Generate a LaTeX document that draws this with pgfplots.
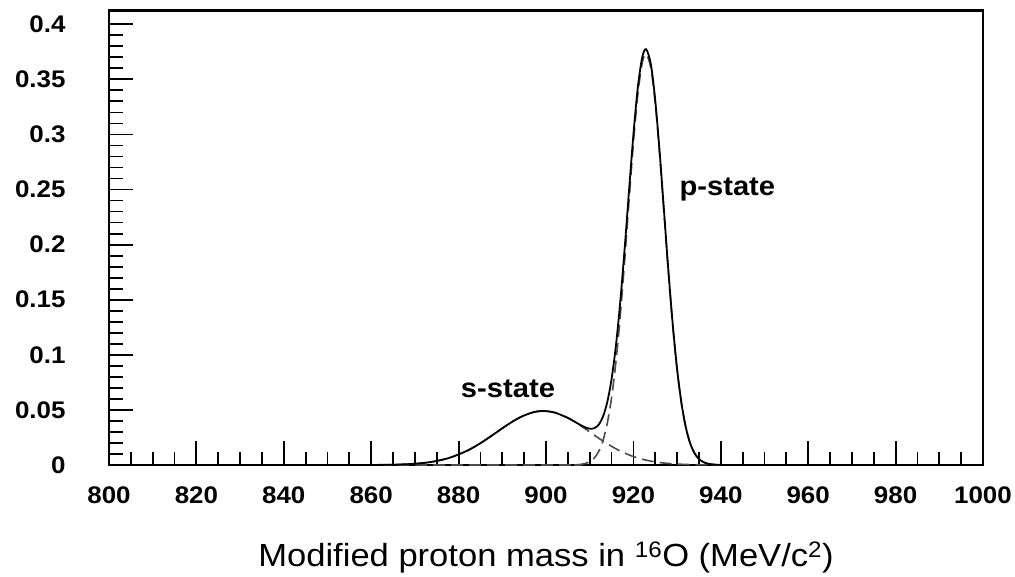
\documentclass[border=0pt]{standalone}
\usepackage{fontspec}
\setmainfont{Liberation Sans}[FakeStretch=1.08]
\usepackage{pgfplots}
\pgfplotsset{compat=1.18}
\usepackage{pgfplotstable}

% s-state Gaussian component
\pgfplotstableread{
x y
800 0
850 0
860 0.00006
865 0.00028
870 0.00112
874 0.00293
878 0.00663
882 0.01306
885 0.01981
888 0.02778
891 0.03601
894 0.04314
897 0.04779
899.4 0.04900
902 0.04757
905 0.04273
908 0.03548
910 0.03000
912 0.02450
914 0.01932
916 0.01471
918 0.01081
920 0.00768
922 0.00527
924 0.00349
926 0.00223
928 0.00138
930 0.00082
933 0.00035
936 0.00014
940 0.00003
945 0
1000 0
}\sstate

% p-state Gaussian component
\pgfplotstableread{
x y
800 0
900 0
906 0.00009
908 0.00059
909 0.00137
910 0.00298
911 0.00612
912 0.01185
913 0.02167
914 0.03741
915 0.06092
916 0.09363
917 0.13575
918 0.18581
919 0.23983
920 0.29217
921 0.33590
922 0.36440
922.9 0.37300
924 0.36014
925 0.32818
926 0.28218
927 0.22895
928 0.17532
929 0.12664
930 0.08632
931 0.05554
932 0.03372
933 0.01928
934 0.01043
935 0.00532
936 0.00256
937 0.00116
938 0.00050
940 0.00008
945 0
1000 0
}\pstate

% total fit (sum of both states)
\pgfplotstableread{
x y
800 0
850 0
860 0.00006
865 0.00028
870 0.00112
874 0.00293
878 0.00663
882 0.01306
885 0.01981
888 0.02778
891 0.03601
894 0.04314
897 0.04779
899.4 0.04900
902 0.04757
905 0.04276
906 0.04060
908 0.03607
909 0.03414
910 0.03298
911 0.03335
912 0.03635
913 0.04352
914 0.05673
915 0.07785
916 0.10834
917 0.14842
918 0.19662
919 0.24898
920 0.29985
921 0.34229
922 0.36967
922.9 0.37740
924 0.36363
925 0.33098
926 0.28441
927 0.23071
928 0.17670
929 0.12771
930 0.08714
931 0.05617
932 0.03419
933 0.01963
934 0.01069
935 0.00552
936 0.00270
937 0.00126
938 0.00058
940 0.00011
945 0
1000 0
}\total

\begin{document}
\begin{tikzpicture}
\useasboundingbox (-109pt,-111pt) rectangle (906pt,465pt);
\begin{axis}[
  at={(0,0)}, anchor=south west,
  scale only axis,
  width=874pt, height=454.5pt,
  xmin=800, xmax=1000, ymin=0, ymax=0.4125,
  axis line style={line width=2.2pt},
  tick align=inside,
  xtick pos=bottom, ytick pos=left,
  major tick length=24pt, minor tick length=13.5pt,
  tick style={line width=1.8pt, black},
  xtick={800,820,840,860,880,900,920,940,960,980,1000},
  xticklabels={800,820,840,860,880,900,920,940,960,980,1000},
  ytick={0,0.05,0.1,0.15,0.2,0.25,0.3,0.35,0.4},
  yticklabels={0,0.05,0.1,0.15,0.2,0.25,0.3,0.35,0.4},
  minor x tick num=3, minor y tick num=4,
  ticklabel style={font=\fontsize{24}{28}\selectfont\bfseries},
  yticklabel style={anchor=east, xshift=-40pt},
  xticklabel style={anchor=north, yshift=-18pt},
  xlabel={Modified proton mass in \textsuperscript{16}O (MeV/c\textsuperscript{2})},
  xlabel style={at={(axis description cs:0.5,0)}, anchor=base, yshift=-101.7pt,
    font=\fontsize{32}{38}\selectfont},
]
\addplot[no markers, smooth, line width=1.6pt, black!70, dash pattern=on 12pt off 6pt] table {\sstate};
\addplot[no markers, smooth, line width=1.6pt, black!70, dash pattern=on 12pt off 6pt] table {\pstate};
\addplot[no markers, smooth, line width=1.8pt, black] table {\total};
\node[anchor=base, font=\fontsize{27}{32}\selectfont\bfseries] at (axis cs:891.3,0.0609) {s-state};
\node[anchor=base, font=\fontsize{27}{32}\selectfont\bfseries] at (axis cs:941.5,0.245) {p-state};
\end{axis}
\end{tikzpicture}
\end{document}
